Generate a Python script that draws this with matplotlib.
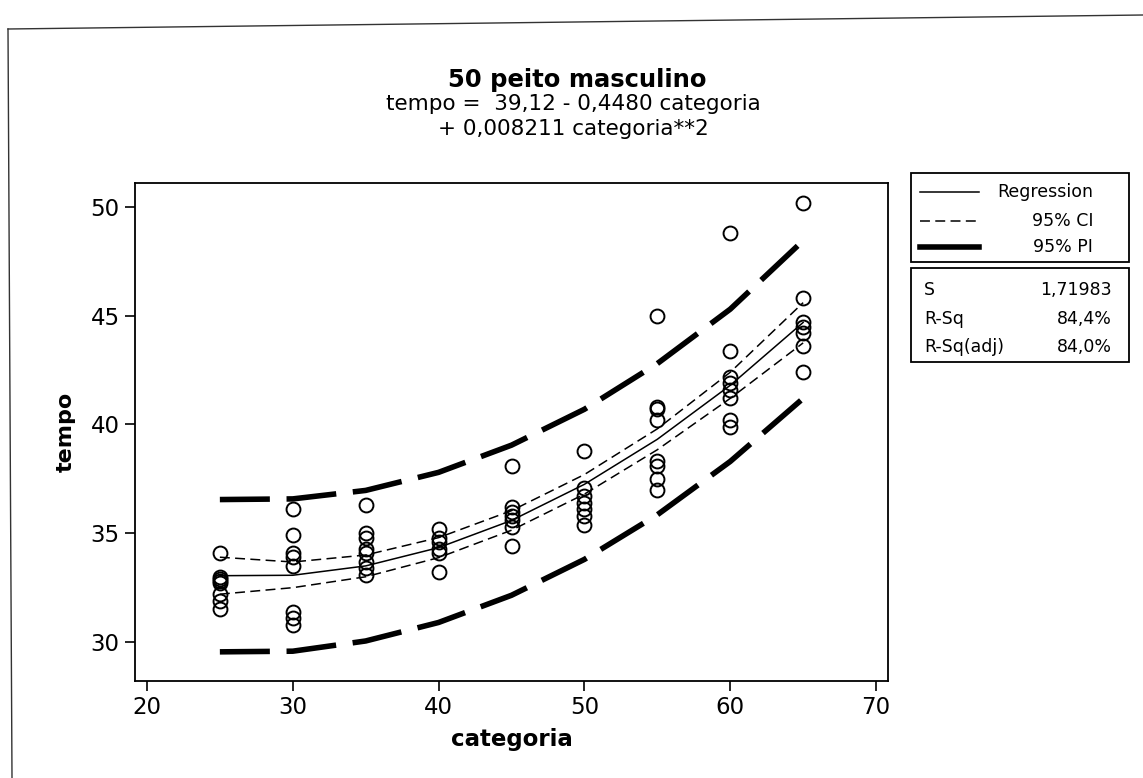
import numpy as np
import matplotlib.pyplot as plt
from matplotlib.lines import Line2D
from matplotlib.patches import Rectangle

plt.rcParams['font.family'] = ['DejaVu Sans']

# dados
cat_25 = [34.1, 33.0, 32.9, 32.8, 32.7, 32.2, 31.9, 31.5]
cat_30 = [36.1, 34.9, 34.1, 33.9, 33.5, 31.4, 31.1, 30.8]
cat_35 = [36.3, 35.0, 34.8, 34.3, 34.1, 33.7, 33.4, 33.1]
cat_40 = [35.2, 34.8, 34.6, 34.3, 34.1, 33.2]
cat_45 = [38.1, 36.2, 36.0, 35.8, 35.6, 35.3, 34.4]
cat_50 = [38.8, 37.1, 36.7, 36.4, 36.1, 35.8, 35.4]
cat_55 = [45.0, 40.8, 40.7, 40.2, 38.3, 38.1, 37.5, 37.0]
cat_60 = [48.8, 43.4, 42.2, 41.9, 41.6, 41.2, 40.2, 39.9]
cat_65 = [50.2, 45.8, 44.7, 44.5, 44.2, 43.6, 42.4]
categorias = [25, 30, 35, 40, 45, 50, 55, 60, 65]
grupos = [cat_25, cat_30, cat_35, cat_40, cat_45, cat_50, cat_55, cat_60, cat_65]

# curvas (valores em cada categoria)
regressao = [33.05, 33.07, 33.50, 34.34, 35.59, 37.25, 39.32, 41.80, 44.69]
ic_sup = [33.90, 33.68, 34.00, 34.80, 36.04, 37.70, 39.80, 42.40, 45.60]
ic_inf = [32.20, 32.50, 33.00, 33.88, 35.14, 36.80, 38.84, 41.20, 43.75]
ip_sup = [36.55, 36.58, 36.97, 37.80, 39.05, 40.70, 42.80, 45.30, 48.45]
ip_inf = [29.55, 29.58, 30.05, 30.90, 32.15, 33.80, 35.85, 38.30, 41.20]

titulo = '50 peito masculino'
subtitulo1 = 'tempo =  39,12 - 0,4480 categoria'
subtitulo2 = '+ 0,008211 categoria**2'
legenda = ['Regression', '95% CI', '95% PI']
estat_nomes = ['S', 'R-Sq', 'R-Sq(adj)']
estat_valores = ['1,71983', '84,4%', '84,0%']

W, H = 1143, 778
fig = plt.figure(figsize=(W / 100, H / 100), dpi=100)


def fx(px):
    return px / W


def fy(py):
    return 1 - py / H


ax = fig.add_axes([fx(135), fy(681), fx(888) - fx(135), fy(183) - fy(681)])

xs, ys = [], []
for c, g in zip(categorias, grupos):
    xs += [c] * len(g)
    ys += g
ax.plot(xs, ys, 'o', ms=10, mfc='none', mec='black', mew=1.4, zorder=3)

ax.plot(categorias, regressao, color='black', lw=1.1)
ax.plot(categorias, ic_sup, color='black', lw=1.1, dashes=(6.5, 3.5))
ax.plot(categorias, ic_inf, color='black', lw=1.1, dashes=(6.5, 3.5))
ax.plot(categorias, ip_sup, color='black', lw=4, dashes=(9.0, 3.0))
ax.plot(categorias, ip_inf, color='black', lw=4, dashes=(9.0, 3.0))

ax.set_xlim(19.18, 70.82)
ax.set_ylim(28.21, 51.10)
ax.set_xticks([20, 30, 40, 50, 60, 70])
ax.set_yticks([30, 35, 40, 45, 50])
ax.tick_params(direction='out', length=7, width=1.2, labelsize=16.5, pad=4)
for s in ax.spines.values():
    s.set_linewidth(1.3)

ax.set_xlabel('categoria', fontsize=16.5, fontweight='bold', labelpad=6)
ax.set_ylabel('tempo', fontsize=16, fontweight='bold', labelpad=11)

# títulos
fig.text(fx(577), fy(80), titulo, ha='center', va='center', fontsize=17.5, fontweight='bold')
fig.text(fx(573), fy(104), subtitulo1, ha='center', va='center', fontsize=15.5)
fig.text(fx(573), fy(129), subtitulo2, ha='center', va='center', fontsize=15.5)

# moldura externa
fig.add_artist(Line2D([fx(8), fx(1143)], [fy(29), fy(15)], color='#333333', lw=1.0))
fig.add_artist(Line2D([fx(8), fx(12)], [fy(29), fy(778)], color='#333333', lw=1.0))

# caixa de legenda
fig.add_artist(Rectangle((fx(911), fy(262)), fx(1129) - fx(911), fy(173) - fy(262),
                         fill=False, ec='black', lw=1.3))
estilos = [dict(lw=1.1), dict(lw=1.1, dashes=(6.5, 3.5)), dict(lw=4)]
linhas_y = [192, 221, 247]
for nome, est, py in zip(legenda, estilos, linhas_y):
    fig.add_artist(Line2D([fx(920), fx(979)], [fy(py), fy(py)], color='black', **est))
    fig.text(fx(1093), fy(py), nome, ha='right', va='center', fontsize=12.5)

# caixa de estatísticas
fig.add_artist(Rectangle((fx(911), fy(362)), fx(1129) - fx(911), fy(268) - fy(362),
                         fill=False, ec='black', lw=1.3))
for nome, val, py in zip(estat_nomes, estat_valores, [290, 319, 347]):
    fig.text(fx(924), fy(py), nome, ha='left', va='center', fontsize=12.5)
    fig.text(fx(1112), fy(py), val, ha='right', va='center', fontsize=12.5)

fig.savefig('out.png', dpi=100)
